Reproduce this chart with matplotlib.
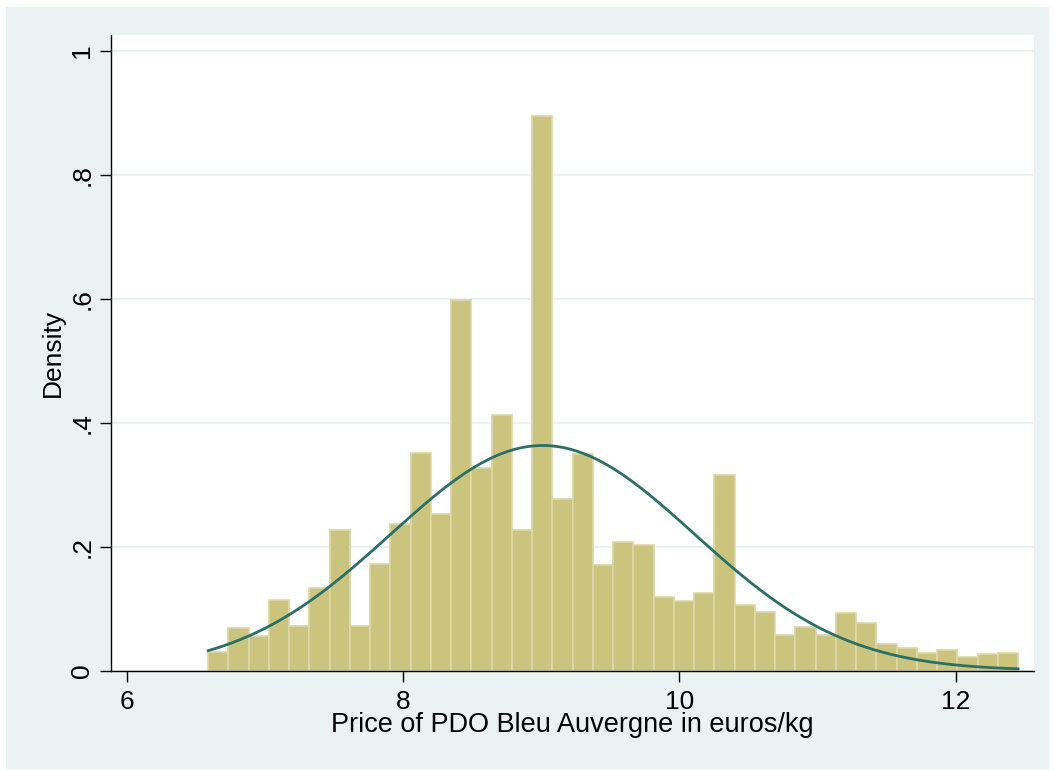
#!/usr/bin/env python3

import numpy as np
import matplotlib
matplotlib.use("Agg")
import matplotlib.pyplot as plt
from matplotlib.patches import Rectangle

# Histogram of prices (density), 40 bins
bin_start = 6.588
bin_end = 12.453
densities = [0.030, 0.068, 0.055, 0.113, 0.072, 0.133, 0.227, 0.071, 0.172, 0.237,
             0.351, 0.252, 0.598, 0.327, 0.412, 0.226, 0.894, 0.276, 0.350, 0.170,
             0.208, 0.203, 0.119, 0.112, 0.125, 0.315, 0.106, 0.095, 0.058, 0.070,
             0.057, 0.092, 0.076, 0.042, 0.037, 0.028, 0.033, 0.022, 0.027, 0.028]

# Normal density overlay parameters
norm_mean = 9.01
norm_sd = 1.099

xticks = [6, 8, 10, 12]
yticks = [0, 0.2, 0.4, 0.6, 0.8, 1.0]
ytick_labels = ["0", ".2", ".4", ".6", ".8", "1"]

bar_color = "#CBC47F"
bar_edge = "#DDD8A6"
line_color = "#2B6F66"
bg_color = "#EAF2F3"

plt.rcParams['font.family'] = ['Liberation Sans', 'DejaVu Sans']

fig = plt.figure(figsize=(10.55, 7.71), dpi=100)
fig.patch.set_facecolor("white")
fig.patches.append(Rectangle((6 / 1055, 2 / 771), 1043 / 1055, 762 / 771,
                             transform=fig.transFigure, facecolor=bg_color,
                             edgecolor="none", zorder=-10))

ax = fig.add_axes([110.7 / 1055, 100.5 / 771, 923.3 / 1055, 635.5 / 771])
ax.set_zorder(1)
ax.set_facecolor("white")

n = len(densities)
edges = np.linspace(bin_start, bin_end, n + 1)
width = edges[1] - edges[0]
ax.bar(edges[:-1], densities, width=width, align="edge", color=bar_color,
       edgecolor=bar_edge, linewidth=1.2, zorder=2)

xs = np.linspace(bin_start, bin_end, 400)
pdf = np.exp(-0.5 * ((xs - norm_mean) / norm_sd) ** 2) / (norm_sd * np.sqrt(2 * np.pi))
ax.plot(xs, pdf, color=line_color, linewidth=2.0, zorder=3)

ax.set_xlim(5.882, 12.568)
ax.set_ylim(0, 1.0253)

ax.set_xticks(xticks)
ax.set_xticklabels([str(t) for t in xticks])
ax.set_yticks(yticks)
ax.set_yticklabels(ytick_labels, rotation=90, va="center")

ax.tick_params(axis="both", direction="out", length=7.7, width=1, colors="black",
               labelsize=19)
ax.tick_params(axis="x", pad=6)
ax.tick_params(axis="y", pad=4)

ax.grid(axis="y", color=bg_color, linewidth=1.5, zorder=1)
ax.set_axisbelow(True)

for side in ["top", "right"]:
    ax.spines[side].set_visible(False)
ax.spines["left"].set_linewidth(1)
ax.spines["bottom"].set_linewidth(1)

ax.set_xlabel("Price of PDO Bleu Auvergne in euros/kg", fontsize=19.5)
ax.set_ylabel("Density", fontsize=19)
ax.xaxis.set_label_coords(0.5, -0.066)
ax.yaxis.set_label_coords(-0.05, 0.5)

plt.savefig("out.png", dpi=100, facecolor=fig.get_facecolor())
plt.close()
